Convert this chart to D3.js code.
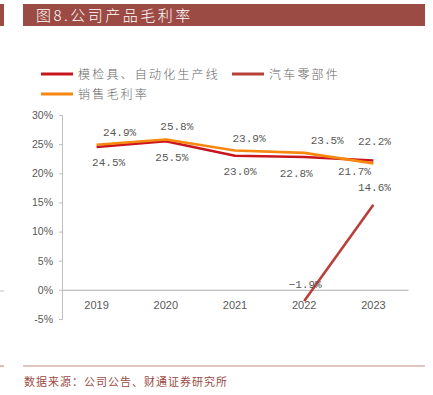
<!DOCTYPE html>
<html>
<head>
  <meta charset="UTF-8">
  <title>公司产品毛利率</title>
  <script src="https://cdn.jsdelivr.net/npm/d3@7"></script>
  <style type="text/css">
    body { margin: 0; background: #fff; }
  </style>
</head>
<body>
  <script type="text/javascript">

    // chart data
    var years = ["2019", "2020", "2021", "2022", "2023"];
    var moldLine = [24.5, 25.5, 23.0, 22.8, 22.2];        // 模检具、自动化生产线
    var autoParts = [null, null, null, -1.9, 14.6];      // 汽车零部件
    var salesMargin = [24.9, 25.8, 23.9, 23.5, 21.7];    // 销售毛利率
    var yTicks = [-5, 0, 5, 10, 15, 20, 25, 30];
    var seriesNames = ["模检具、自动化生产线", "汽车零部件", "销售毛利率"];

    var W = 433, H = 395;
    var brand = "#9c4a44";

    var svg = d3.select("body").append("svg")
        .attr("width", W)
        .attr("height", H);

    // header bar
    svg.append("rect").attr("x", 0).attr("y", 4).attr("width", 4).attr("height", 22).attr("fill", brand);
    svg.append("rect").attr("x", 23).attr("y", 4).attr("width", 402).attr("height", 22).attr("fill", brand);
    svg.append("text")
        .attr("x", 36).attr("y", 21)
        .attr("fill", "#fff")
        .style("font-family", "'Noto Sans CJK SC'")
        .style("font-size", "15px")
        .style("font-weight", "300")
        .style("letter-spacing", "2.5px")
        .text("图8.公司产品毛利率");

    // scales
    var x = d3.scaleBand().domain(years).range([62, 408]);
    var y = d3.scaleLinear().domain([-5, 30]).range([319, 115]);
    var cx = function (i) { return x(years[i]) + x.bandwidth() / 2; };

    // y axis
    var yAxis = d3.axisLeft(y)
        .tickValues(yTicks)
        .tickSize(3)
        .tickPadding(6)
        .tickFormat(function (d) { return d + "%"; });
    var gy = svg.append("g")
        .attr("transform", "translate(62,0)")
        .call(yAxis);
    gy.selectAll("path, line").attr("stroke", "#bfbfbf");
    gy.selectAll("text")
        .attr("fill", "#595959")
        .style("font-family", "'Liberation Sans'")
        .style("font-size", "10.5px");

    // zero line with category labels
    var xAxis = d3.axisBottom(x).tickSize(0).tickPadding(11);
    var gx = svg.append("g")
        .attr("transform", "translate(0," + y(0) + ")")
        .call(xAxis);
    gx.select(".domain").attr("stroke", "#bfbfbf").attr("stroke-width", 1.2);
    gx.selectAll("text")
        .attr("fill", "#595959")
        .style("font-family", "'Liberation Sans'")
        .style("font-size", "11px");

    // lines
    var line = d3.line()
        .defined(function (d) { return d != null; })
        .x(function (d, i) { return cx(i); })
        .y(function (d) { return y(d); });

    var series = [
      { values: moldLine, color: "#c8161e" },
      { values: autoParts, color: "#b8403a" },
      { values: salesMargin, color: "#f7870f" }
    ];

    series.forEach(function (s) {
      svg.append("path")
          .attr("d", line(s.values))
          .attr("fill", "none")
          .attr("stroke", s.color)
          .attr("stroke-width", 2.6)
          .attr("stroke-linejoin", "round");
    });

    // data labels (offsets are placement only)
    var labelOffsets = [
      [[12, 19], [6, 20], [5, 19], [-8, 20], [1, -15]],
      [null, null, null, [1, -13], [1, -14]],
      [[23, -9], [11, -9], [14, -9], [23, -9], [-19, 12]]
    ];
    series.forEach(function (s, k) {
      s.values.forEach(function (v, i) {
        if (v == null) return;
        var o = labelOffsets[k][i];
        svg.append("text")
            .attr("x", cx(i) + o[0])
            .attr("y", y(v) + o[1])
            .attr("text-anchor", "middle")
            .attr("fill", "#595959")
            .style("font-family", "'Liberation Mono'")
            .style("font-size", "11px")
            .text(v.toFixed(1).replace("-", "\u2212") + "%");
      });
    });

    // legend
    var legendPos = [[41, 74], [232, 74], [41, 94]];
    seriesNames.forEach(function (name, k) {
      var p = legendPos[k];
      svg.append("line")
          .attr("x1", p[0]).attr("x2", p[0] + 32)
          .attr("y1", p[1]).attr("y2", p[1])
          .attr("stroke", series[k].color)
          .attr("stroke-width", 3);
      svg.append("text")
          .attr("x", p[0] + 37).attr("y", p[1] + 4.5)
          .attr("fill", "#666")
          .style("font-family", "'Noto Sans CJK SC'")
          .style("font-size", "12px")
          .style("font-weight", "300")
          .style("letter-spacing", "2.2px")
          .text(name);
    });

    // left edge marks
    svg.append("line").attr("x1", 0).attr("x2", 4).attr("y1", 291).attr("y2", 291)
        .attr("stroke", "#bfbfbf");

    // footer
    svg.append("line").attr("x1", 23).attr("x2", 425).attr("y1", 366).attr("y2", 366)
        .attr("stroke", "#c98a85").attr("stroke-width", 1.2);
    svg.append("line").attr("x1", 0).attr("x2", 4).attr("y1", 366).attr("y2", 366)
        .attr("stroke", "#c98a85").attr("stroke-width", 1.2);
    svg.append("text")
        .attr("x", 24).attr("y", 386)
        .attr("fill", brand)
        .style("font-family", "'Noto Sans CJK SC'")
        .style("font-size", "11px")
        .style("letter-spacing", "1px")
        .text("数据来源：公司公告、财通证券研究所");

  </script>
</body>
</html>
